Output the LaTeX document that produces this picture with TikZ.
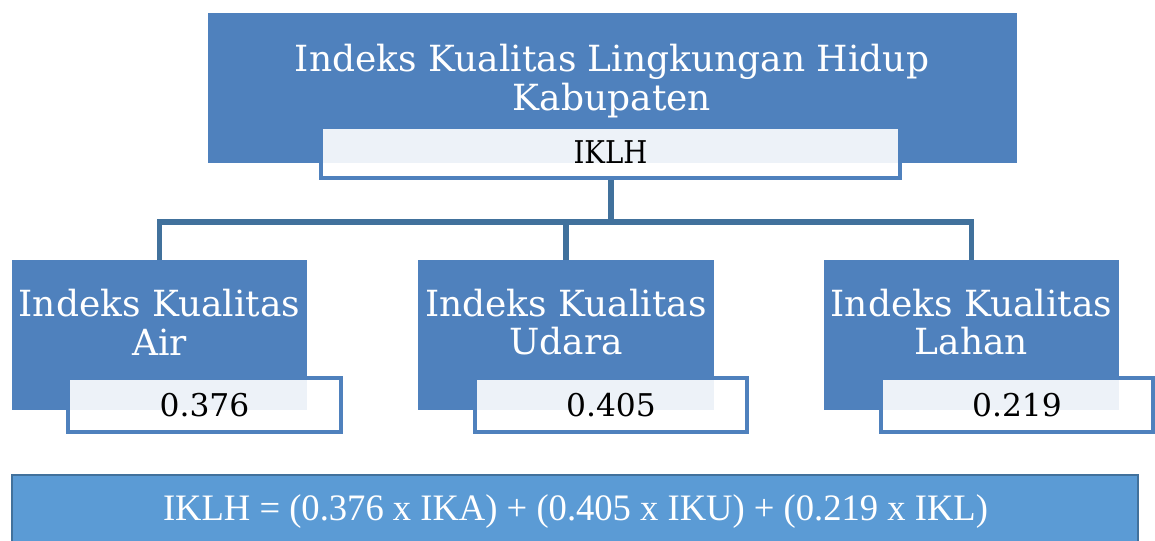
\documentclass[tikz,border=0pt]{standalone}
\usepackage{fontspec}
\setmainfont{DejaVu Serif}
\newfontfamily\formulafont{Liberation Serif}
\definecolor{boxblue}{HTML}{4F81BD}
\definecolor{connblue}{HTML}{41719C}
\definecolor{barblue}{HTML}{5B9BD5}
\begin{document}
\begin{tikzpicture}[x=0.75pt,y=-0.75pt,
  bluebox/.style={draw=none,fill=boxblue,inner sep=0pt,outer sep=0pt},
  labelbox/.style={draw=boxblue,line width=2.8pt,fill=white,fill opacity=0.9,inner sep=0pt,outer sep=0pt},
  headtext/.style={text=white,font=\fontsize{27}{29}\selectfont,align=center,inner sep=0pt},
  valtext/.style={text=black,font=\fontsize{23.5}{26}\selectfont,inner sep=0pt},
  conn/.style={draw=connblue,line width=3.8pt}]
\useasboundingbox (0,0) rectangle (1155,540);
% top
\node[bluebox,minimum width=809*0.75pt,minimum height=150*0.75pt] (top) at (612.5,88) {};
\node[headtext] (toptext) at (612,81) {Indeks Kualitas Lingkungan Hidup\\Kabupaten};
% children
\node[bluebox,minimum width=295*0.75pt,minimum height=150*0.75pt] (air) at (159.5,335) {};
\node[bluebox,minimum width=296*0.75pt,minimum height=150*0.75pt] (udara) at (566,335) {};
\node[bluebox,minimum width=295*0.75pt,minimum height=150*0.75pt] (lahan) at (971.5,335) {};
\node[headtext] (airtext) at (159.5,322) {Indeks Kualitas\\Air};
\node[headtext] (udaratext) at (566,322) {Indeks Kualitas\\Udara};
\node[headtext] (lahantext) at (971.5,322) {Indeks Kualitas\\Lahan};
% connectors
\coordinate (bus) at (611,222);
\draw[conn] (611,176) -- (bus);
\draw[conn] (bus) -| (air.north);
\draw[conn] (bus) -| (udara.north);
\draw[conn] (bus) -| (lahan.north);
% labels
\node[labelbox,minimum width=579*0.75pt,minimum height=51*0.75pt] (toplbl) at (610.5,152.5) {};
\node[valtext] (toplbltext) at (toplbl.center) {\scalebox{0.88}[1]{IKLH}};
\node[labelbox,minimum width=273*0.75pt,minimum height=54*0.75pt] (airlbl) at (204.5,405) {};
\node[valtext] (airval) at (airlbl.center) {0.376};
\node[labelbox,minimum width=272*0.75pt,minimum height=54*0.75pt] (udaralbl) at (611,405) {};
\node[valtext] (udaraval) at (udaralbl.center) {0.405};
\node[labelbox,minimum width=272*0.75pt,minimum height=54*0.75pt] (lahanlbl) at (1017,405) {};
\node[valtext] (lahanval) at (lahanlbl.center) {0.219};
% formula bar
\node[draw=connblue,line width=1.2pt,fill=barblue,minimum width=1126*0.75pt,minimum height=80*0.75pt,inner sep=0pt] (formula) at (575,515) {};
\node[text=white,font=\formulafont\fontsize{28}{30}\selectfont,inner sep=0pt] (formulatext) at (575.5,512) {\scalebox{0.98}[1]{IKLH = (0.376 x IKA) + (0.405 x IKU) + (0.219 x IKL)}};
\end{tikzpicture}
\end{document}
